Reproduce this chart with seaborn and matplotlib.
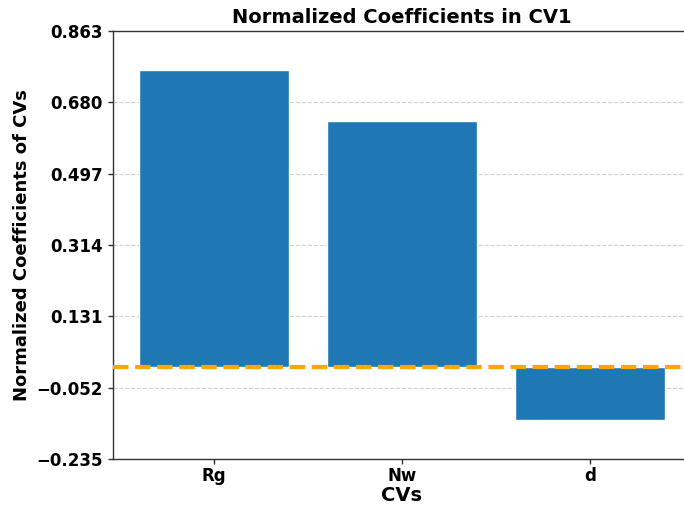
import numpy as np
import pandas as pd
import matplotlib
matplotlib.use("Agg")
import matplotlib.pyplot as plt
import seaborn as sns
from matplotlib.ticker import FuncFormatter

cvs = ["Rg", "Nw", "d"]
coefficients = [0.763, 0.632, -0.135]

sns.set_style("white")
plt.rcParams["font.family"] = ["DejaVu Sans"]
plt.rcParams["font.weight"] = "bold"
plt.rcParams["text.color"] = "black"
plt.rcParams["axes.labelcolor"] = "black"
plt.rcParams["xtick.color"] = "black"
plt.rcParams["ytick.color"] = "black"

df = pd.DataFrame({"CV": cvs, "coef": coefficients})

fig = plt.figure(figsize=(6.84, 5.09), dpi=100)
ax = fig.add_axes([0.1645, 0.0982, 0.846, 0.8409])

sns.barplot(data=df, x="CV", y="coef", color="#1f77b4", saturation=1,
            width=0.8, ax=ax, zorder=2)

ax.axhline(0, color="#FFA500", linestyle="--", linewidth=3, zorder=3)

ymin = min(coefficients) - 0.1
ymax = max(coefficients) + 0.1
ax.set_ylim(ymin, ymax)
ax.set_yticks(np.linspace(ymin, ymax, 7))
ax.yaxis.set_major_formatter(FuncFormatter(lambda v, p: f"{v:.3f}".replace("-", "\u2212")))
ax.set_xlim(-0.54, 2.54)

ax.grid(axis="y", linestyle="--", color="#bbbbbb", alpha=0.7, linewidth=0.8, zorder=0)
ax.set_axisbelow(True)

ax.tick_params(axis="both", labelsize=12, length=3.5, width=1, color="#333333", direction="out",
               left=True, bottom=True, labelcolor="black")
ax.tick_params(axis="x", pad=2)
for lbl in ax.get_xticklabels() + ax.get_yticklabels():
    lbl.set_fontweight("bold")

for s in ax.spines.values():
    s.set_color("#333333")
    s.set_linewidth(1)

ax.set_title("Normalized Coefficients in CV1", fontsize=14, fontweight="bold", color="black")
ax.set_xlabel("CVs", fontsize=14, fontweight="bold", color="black", labelpad=1)
ax.set_ylabel("Normalized Coefficients of CVs", fontsize=13, fontweight="bold", color="black")

fig.savefig("out.png", dpi=100)
